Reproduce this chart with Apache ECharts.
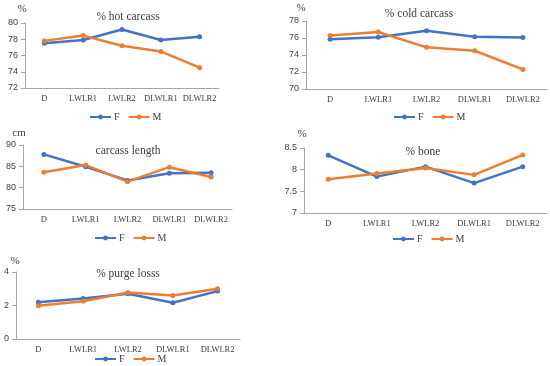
<!DOCTYPE html>
<html><head><meta charset="utf-8">
<script src="https://cdn.jsdelivr.net/npm/echarts@6/dist/echarts.min.js"></script>
<style>html,body{margin:0;padding:0;background:#fff}#c{width:550px;height:366px}</style>
</head><body><div id="c"></div>
<script>
const categories = ['D', 'LWLR1', 'LWLR2', 'DLWLR1', 'DLWLR2'];
const seriesNames = ['F', 'M'];

const hotTitle = '% hot carcass';
const hotUnit = '%';
const hotF = [77.5, 77.9, 79.2, 77.9, 78.3];
const hotM = [77.8, 78.45, 77.2, 76.5, 74.5];
const hotTicks = [72, 80, 2];

const coldTitle = '% cold carcass';
const coldUnit = '%';
const coldF = [75.85, 76.1, 76.85, 76.15, 76.05];
const coldM = [76.3, 76.7, 74.9, 74.5, 72.3];
const coldTicks = [70, 78, 2];

const lenTitle = 'carcass length';
const lenUnit = 'cm';
const lenF = [87.8, 84.9, 81.7, 83.4, 83.5];
const lenM = [83.6, 85.3, 81.4, 84.8, 82.5];
const lenTicks = [75, 90, 5];

const boneTitle = '% bone';
const boneUnit = '%';
const boneF = [8.33, 7.84, 8.07, 7.69, 8.07];
const boneM = [7.78, 7.91, 8.04, 7.88, 8.34];
const boneTicks = [7, 8.5, 0.5];

const purgeTitle = '% purge losss';
const purgeUnit = '%';
const purgeF = [2.19, 2.42, 2.7, 2.16, 2.86];
const purgeM = [1.98, 2.25, 2.78, 2.6, 3.0];
const purgeTicks = [0, 4, 2];

const panels = [
  {title: hotTitle, unit: hotUnit, F: hotF, M: hotM, ticks: hotTicks,
   grid: {left: 25, top: 23, width: 194, height: 65}, tx: 128, ty: 17, ux: 22, uy: 9, lx: 89, ly: 112},
  {title: coldTitle, unit: coldUnit, F: coldF, M: coldM, ticks: coldTicks,
   grid: {left: 306, top: 21, width: 241, height: 68}, tx: 419, ty: 14, ux: 301, uy: 8, lx: 393, ly: 112},
  {title: lenTitle, unit: lenUnit, F: lenF, M: lenM, ticks: lenTicks,
   grid: {left: 23, top: 145, width: 209, height: 64}, tx: 128, ty: 151, ux: 19, uy: 133, lx: 94, ly: 233},
  {title: boneTitle, unit: boneUnit, F: boneF, M: boneM, ticks: boneTicks,
   grid: {left: 304, top: 148, width: 243, height: 65}, tx: 423, ty: 152, ux: 302, uy: 134, lx: 392, ly: 234},
  {title: purgeTitle, unit: purgeUnit, F: purgeF, M: purgeM, ticks: purgeTicks,
   grid: {left: 16, top: 272, width: 224, height: 67}, tx: 128, ty: 274, ux: 15, uy: 261, lx: 94, ly: 354}
];

const colors = {F: '#4472C4', M: '#ED7D31'};
const serif = 'Liberation Serif';
const axisColor = '#a6a6a6';
const textColor = '#404040';

const option = {
  animation: false,
  backgroundColor: '#fff',
  grid: [], xAxis: [], yAxis: [], series: [], legend: [], graphic: []
};

panels.forEach((p, i) => {
  option.grid.push(Object.assign({}, p.grid));
  option.xAxis.push({
    type: 'category', gridIndex: i, data: categories, boundaryGap: true,
    axisLine: {lineStyle: {color: axisColor, width: 1}},
    axisTick: {alignWithLabel: true, length: 4, lineStyle: {color: axisColor}},
    axisLabel: {interval: 0, hideOverlap: false, fontFamily: serif, fontSize: 8.5, color: textColor, margin: 6}
  });
  option.yAxis.push({
    type: 'value', gridIndex: i, min: p.ticks[0], max: p.ticks[1], interval: p.ticks[2],
    axisLine: {show: true, lineStyle: {color: axisColor, width: 1}},
    axisTick: {show: true, length: 4, lineStyle: {color: axisColor}},
    splitLine: {show: false},
    axisLabel: {fontFamily: 'Liberation Sans', fontSize: 9, color: textColor, margin: 7}
  });
  seriesNames.forEach(n => {
    option.series.push({
      type: 'line', name: n, xAxisIndex: i, yAxisIndex: i, data: p[n],
      symbol: 'circle', symbolSize: 5,
      lineStyle: {color: colors[n], width: 2.5},
      itemStyle: {color: colors[n]}
    });
  });
  option.legend.push({
    data: seriesNames, left: p.lx, top: p.ly, itemWidth: 21, itemHeight: 6, itemGap: 8,
    padding: 0,
    textStyle: {fontFamily: serif, fontSize: 10, color: textColor, padding: [0, 0, 0, -2]}
  });
  option.graphic.push({
    type: 'text', x: p.tx, y: p.ty,
    style: {text: p.title, fontFamily: serif, fontSize: 11.5, fill: textColor, textAlign: 'center', textVerticalAlign: 'middle'}
  });
  option.graphic.push({
    type: 'text', x: p.ux, y: p.uy,
    style: {text: p.unit, fontFamily: serif, fontSize: 11, fill: textColor, textAlign: 'center', textVerticalAlign: 'middle'}
  });
});

const chart = echarts.init(document.getElementById('c'), null, {renderer: 'canvas'});
chart.setOption(option);
</script>
</body></html>
